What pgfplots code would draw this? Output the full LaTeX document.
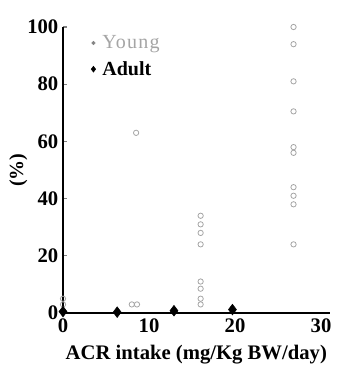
\documentclass[border=0pt]{standalone}
\usepackage{pgfplots}
\pgfplotsset{compat=1.18}
\usepackage{fontspec}
\setmainfont{Liberation Serif}
\definecolor{young}{RGB}{165,165,165}
\begin{document}
\begin{tikzpicture}
\begin{axis}[
  scale only axis,
  width=200pt, height=214.5pt,
  xmin=0, xmax=31, ymin=0, ymax=100,
  axis x line=bottom, axis y line=left,
  axis line style={-},
  y axis line style={line width=1.4pt},
  x axis line style={line width=0.9pt},
  xtick={0,10,20,30}, ytick={0,20,40,60,80,100},
  major tick length=3pt,
  x tick style={draw=none},
  y tick style={line width=0.8pt},
  tick align=inside,
  ticklabel style={font=\fontsize{15.5}{15.5}\selectfont\bfseries},
  /pgf/number format/assume math mode=true,
  xticklabel style={yshift=-1pt},
  xlabel={ACR intake (mg/Kg BW/day)},
  ylabel={(\%)},
  xlabel style={font=\fontsize{15.5}{15.5}\selectfont\bfseries, yshift=-2pt},
  ylabel style={font=\fontsize{15}{15}\selectfont\bfseries, yshift=-7pt},
  clip=false,
  legend style={draw=none, fill=none, at={(0.09,0.99)}, anchor=north west,
    font=\fontsize{15}{15}\selectfont, row sep=4pt},
  legend cell align=left,
]
\addlegendimage{only marks, mark=*, mark size=1.3pt, young!80!black}
\addlegendentry{\hspace{3pt}\textcolor{young}{\addfontfeature{LetterSpace=6}Young}}
\addlegendimage{only marks, mark=diamond*, mark size=2.2pt, black}
\addlegendentry{\hspace{3pt}\textbf{Adult}}
\addplot[only marks, mark=o, mark size=2pt, young, mark options={line width=0.6pt}] coordinates {
 (0,5) (0,3)
 (8.5,63) (8,3) (8.6,3)
 (16,34) (16,31) (16,28) (16,24) (16,11) (16,8.5) (16,5) (16,3)
 (26.8,100) (26.8,94) (26.8,81) (26.8,70.5) (26.8,58) (26.8,56) (26.8,44) (26.8,41) (26.8,38) (26.8,24)
};
\addplot[only marks, mark=diamond*, mark size=4pt, black] coordinates {
 (0,0.5) (6.3,0.3) (12.9,0.8) (19.7,1.2)
};
\end{axis}
\pgfresetboundingbox
\path[use as bounding box] (-47.25pt,-50.25pt) rectangle (219.75pt,234.75pt);
\end{tikzpicture}
\end{document}
